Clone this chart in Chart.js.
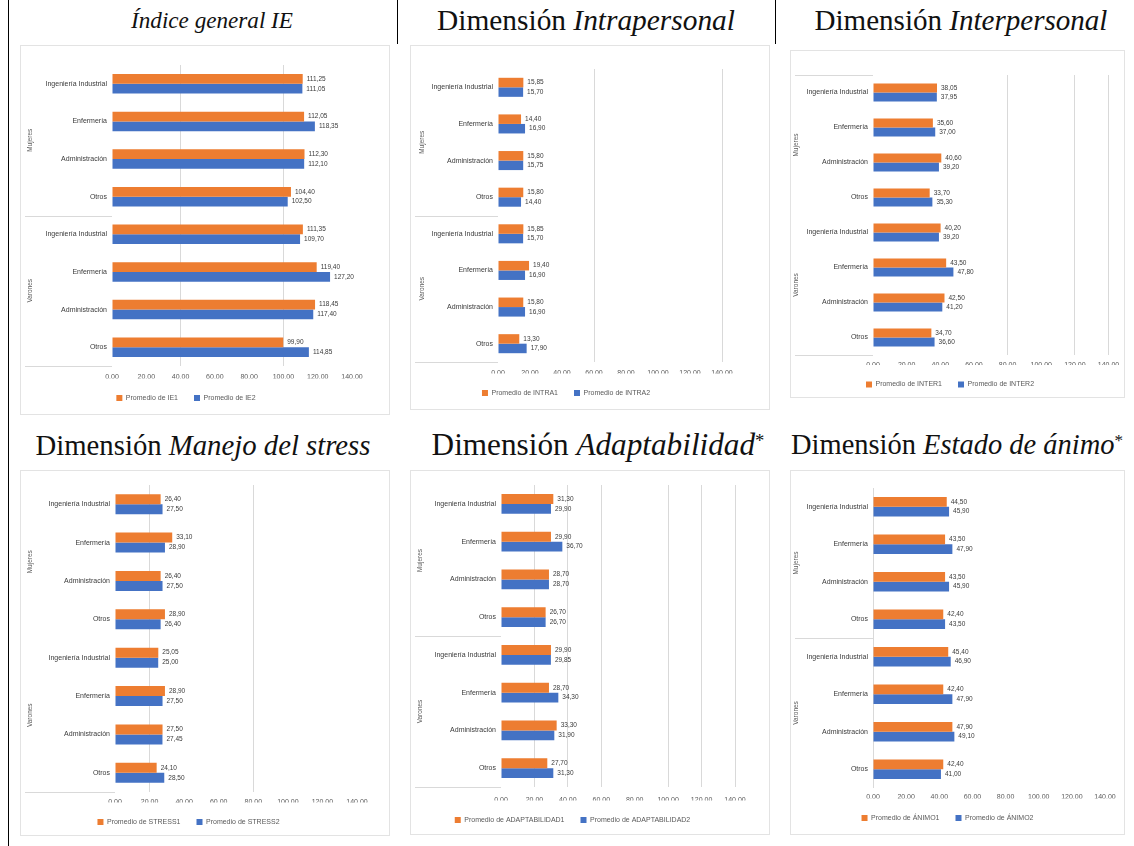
<!DOCTYPE html>
<html lang="es">
<head>
<meta charset="utf-8">
<title>Inteligencia emocional por dimensión</title>
<script src="https://cdn.jsdelivr.net/npm/chart.js@4.4.1/dist/chart.umd.min.js"></script>
<style>
  html, body { margin: 0; padding: 0; background: #fff; }
  body { width: 1134px; height: 846px; position: relative; overflow: hidden; }
  .titulo { position: absolute; font-family: "Liberation Serif", "DejaVu Serif", serif; font-size: 22px;
            color: #111; white-space: nowrap; line-height: 1; transform: translate(-50%, -50%); }
  .titulo sup { font-size: 0.6em; vertical-align: 0.45em; }
  canvas { position: absolute; outline: 1px solid #e3e3e3; outline-offset: -1px; }
  .regla { position: absolute; background: #000; }
</style>
</head>
<body>

<div class="titulo" data-ancho="162" style="left:212px;top:21px"><i>Índice general IE</i></div>
<div class="titulo" data-ancho="298" style="left:586px;top:21px">Dimensión <i>Intrapersonal</i></div>
<div class="titulo" data-ancho="293" style="left:961px;top:21px">Dimensión <i>Interpersonal</i></div>
<div class="titulo" data-ancho="335" style="left:203px;top:445px">Dimensión <i>Manejo del stress</i></div>
<div class="titulo" data-ancho="333" style="left:598px;top:445px">Dimensión <i>Adaptabilidad</i><sup>*</sup></div>
<div class="titulo" data-ancho="332" style="left:957px;top:445px">Dimensión <i>Estado de ánimo</i><sup>*</sup></div>

<div class="regla" style="left:8px;top:0;width:1px;height:846px"></div>
<div class="regla" style="left:397px;top:0;width:1px;height:44px"></div>
<div class="regla" style="left:775px;top:0;width:1px;height:44px"></div>

<script>
// Categorías: dos grupos con las mismas cuatro carreras
const carreras = ["Ingeniería Industrial", "Enfermería", "Administración", "Otros"];
const grupos = ["Mujeres", "Varones"];
const categorias = grupos.flatMap(() => carreras);

// Escala del eje de valores
const ticksX = [0, 20, 40, 60, 80, 100, 120, 140];

// Promedios por dimensión (serie 1 naranja, serie 2 azul)
const ie1     = [111.25, 112.05, 112.30, 104.40, 111.35, 119.40, 118.45,  99.90];
const ie2     = [111.05, 118.35, 112.10, 102.50, 109.70, 127.20, 117.40, 114.85];
const intra1  = [ 15.85,  14.40,  15.80,  15.80,  15.85,  19.40,  15.80,  13.30];
const intra2  = [ 15.70,  16.90,  15.75,  14.40,  15.70,  16.90,  16.90,  17.90];
const inter1  = [ 38.05,  35.60,  40.60,  33.70,  40.20,  43.50,  42.50,  34.70];
const inter2  = [ 37.95,  37.00,  39.20,  35.30,  39.20,  47.80,  41.20,  36.60];
const stress1 = [ 26.40,  33.10,  26.40,  28.90,  25.05,  28.90,  27.50,  24.10];
const stress2 = [ 27.50,  28.90,  27.50,  26.40,  25.00,  27.50,  27.45,  28.50];
const adapt1  = [ 31.30,  29.90,  28.70,  26.70,  29.90,  28.70,  33.30,  27.70];
const adapt2  = [ 29.90,  36.70,  28.70,  26.70,  29.85,  34.30,  31.90,  31.30];
const animo1  = [ 44.50,  43.50,  43.50,  42.40,  45.40,  42.40,  47.90,  42.40];
const animo2  = [ 45.90,  47.90,  45.90,  43.50,  46.90,  47.90,  49.10,  41.00];

// Textos de leyenda
const leyendaIE     = ["Promedio de IE1", "Promedio de IE2"];
const leyendaIntra  = ["Promedio de INTRA1", "Promedio de INTRA2"];
const leyendaInter  = ["Promedio de INTER1", "Promedio de INTER2"];
const leyendaStress = ["Promedio de STRESS1", "Promedio de STRESS2"];
const leyendaAdapt  = ["Promedio de ADAPTABILIDAD1", "Promedio de ADAPTABILIDAD2"];
const leyendaAnimo  = ["Promedio de ÁNIMO1", "Promedio de ÁNIMO2"];

// ---- estilo ----
const fuente = '"Liberation Sans", Arial, sans-serif';
const gris = '#595959';
const grisOscuro = '#3a3a3a';
const naranja = '#ED7D31';
const azul = '#4472C4';
const lineaGris = '#d9d9d9';
const fmt = v => Number(v).toFixed(2).replace('.', ',');

// Ajuste del ancho de cada título
document.querySelectorAll('.titulo').forEach(el => {
  const w = el.getBoundingClientRect().width;
  el.style.fontSize = (22 * (+el.dataset.ancho) / w).toFixed(2) + 'px';
});

// Valor escrito al final de cada barra
const etiquetasValor = {
  id: 'etiquetasValor',
  afterDatasetsDraw(chart) {
    const ctx = chart.ctx;
    ctx.save();
    ctx.font = '6.5px ' + fuente;
    ctx.fillStyle = grisOscuro;
    ctx.textAlign = 'left';
    ctx.textBaseline = 'middle';
    chart.data.datasets.forEach((ds, i) => {
      chart.getDatasetMeta(i).data.forEach((bar, j) => {
        ctx.fillText(fmt(ds.data[j]), bar.x + 4, bar.y);
      });
    });
    ctx.restore();
  }
};

// Eje de categorías en dos niveles: nombres de grupo girados y líneas divisorias
const ejeMultinivel = {
  id: 'ejeMultinivel',
  afterDraw(chart, args, opts) {
    const { ctx, chartArea } = chart;
    const y = chart.scales.y;
    const n = chart.data.labels.length;
    const porGrupo = n / opts.grupos.length;
    ctx.save();
    ctx.strokeStyle = lineaGris;
    ctx.lineWidth = 1;
    opts.lineas.forEach(v => {
      const py = Math.round(y.getPixelForValue(v)) + 0.5;
      ctx.beginPath();
      ctx.moveTo(opts.x0, py);
      ctx.lineTo(chartArea.left, py);
      ctx.stroke();
    });
    ctx.fillStyle = gris;
    ctx.font = '6.5px ' + fuente;
    ctx.textAlign = 'center';
    ctx.textBaseline = 'middle';
    opts.grupos.forEach((g, k) => {
      const a = y.getPixelForValue(k * porGrupo);
      const b = y.getPixelForValue(k * porGrupo + porGrupo - 1);
      ctx.save();
      ctx.translate(opts.xg, (a + b) / 2);
      ctx.rotate(-Math.PI / 2);
      ctx.fillText(g, 0, 0);
      ctx.restore();
    });
    ctx.restore();
  }
};

function dibujarPanel(p) {
  const W = p.caja.r - p.caja.l, H = p.caja.b - p.caja.t;
  const cv = document.createElement('canvas');
  cv.width = W; cv.height = H;
  Object.assign(cv.style, { left: p.caja.l + 'px', top: p.caja.t + 'px', width: W + 'px', height: H + 'px' });
  document.body.appendChild(cv);

  const FS = 7, LP = 16, LH = FS * 1.2;
  const altLeyenda = FS + LP + 10;
  const padB = Math.max(0, H - altLeyenda + LP + FS / 2 - (p.leyendaY - p.caja.t));
  const altX = (H - padB - altLeyenda) - (p.area.b - p.caja.t);
  const padTick = (p.tickY - p.area.b) - LH / 2;
  const anchoY = p.area.l - p.caja.l;

  new Chart(cv, {
    type: 'bar',
    data: {
      labels: categorias,
      datasets: [
        { label: p.leyenda[0], data: p.serie1, backgroundColor: naranja, borderWidth: 0 },
        { label: p.leyenda[1], data: p.serie2, backgroundColor: azul, borderWidth: 0 }
      ]
    },
    options: {
      responsive: false,
      animation: false,
      devicePixelRatio: 1,
      indexAxis: 'y',
      categoryPercentage: 0.52,
      barPercentage: 1,
      layout: { padding: { top: p.area.t - p.caja.t, right: p.caja.r - p.area.r, bottom: padB, left: 0 } },
      plugins: {
        legend: {
          position: 'bottom',
          labels: { boxWidth: 6, boxHeight: 6, padding: LP, color: gris, font: { size: FS, family: fuente } }
        },
        tooltip: { enabled: false },
        ejeMultinivel: { grupos: grupos, lineas: p.lineas, x0: 5, xg: p.xg }
      },
      scales: {
        x: {
          min: ticksX[0],
          max: ticksX[ticksX.length - 1],
          ticks: {
            stepSize: ticksX[1] - ticksX[0],
            padding: padTick,
            color: gris,
            font: { size: FS, family: fuente },
            callback: v => fmt(v),
            maxRotation: 0,
            autoSkip: false
          },
          grid: {
            drawTicks: false,
            lineWidth: 1,
            color: c => (p.rejilla.includes(c.tick && c.tick.value) ? lineaGris : 'rgba(0,0,0,0)')
          },
          border: { display: false },
          afterFit: s => { s.height = altX; }
        },
        y: {
          ticks: { padding: 5, color: grisOscuro, font: { size: FS, family: fuente }, autoSkip: false },
          grid: { display: false, drawTicks: false },
          border: { display: false },
          afterFit: s => { s.width = anchoY; }
        }
      }
    },
    plugins: [etiquetasValor, ejeMultinivel]
  });
}

const paneles = [
  { serie1: ie1, serie2: ie2, leyenda: leyendaIE,
    caja: { l: 20, t: 45, r: 390, b: 415 }, area: { l: 112, r: 352, t: 65, b: 366 },
    tickY: 377, leyendaY: 398, rejilla: [40, 100], lineas: [3.5, 7.5], xg: 10 },
  { serie1: intra1, serie2: intra2, leyenda: leyendaIntra,
    caja: { l: 410, t: 45, r: 770, b: 410 }, area: { l: 498, r: 722, t: 69, b: 362 },
    tickY: 373, leyendaY: 393, rejilla: [60, 140], lineas: [3.5, 7.5], xg: 12 },
  { serie1: inter1, serie2: inter2, leyenda: leyendaInter,
    caja: { l: 790, t: 50, r: 1125, b: 398 }, area: { l: 873, r: 1110, t: 75, b: 355 },
    tickY: 365, leyendaY: 385, rejilla: [80, 120, 140], lineas: [-0.5, 7.5], xg: 6 },
  { serie1: stress1, serie2: stress2, leyenda: leyendaStress,
    caja: { l: 20, t: 470, r: 390, b: 836 }, area: { l: 115, r: 357, t: 485, b: 792 },
    tickY: 802, leyendaY: 822, rejilla: [20, 80], lineas: [7.5], xg: 10 },
  { serie1: adapt1, serie2: adapt2, leyenda: leyendaAdapt,
    caja: { l: 410, t: 470, r: 770, b: 835 }, area: { l: 501, r: 735, t: 485, b: 787 },
    tickY: 800, leyendaY: 820, rejilla: [20, 40, 60, 100, 120, 140], lineas: [3.5, 7.5], xg: 10 },
  { serie1: animo1, serie2: animo2, leyenda: leyendaAnimo,
    caja: { l: 790, t: 470, r: 1125, b: 835 }, area: { l: 873, r: 1105, t: 488, b: 788 },
    tickY: 797, leyendaY: 818, rejilla: [0], lineas: [3.5], xg: 6 }
];

paneles.forEach(dibujarPanel);
</script>
</body>
</html>
